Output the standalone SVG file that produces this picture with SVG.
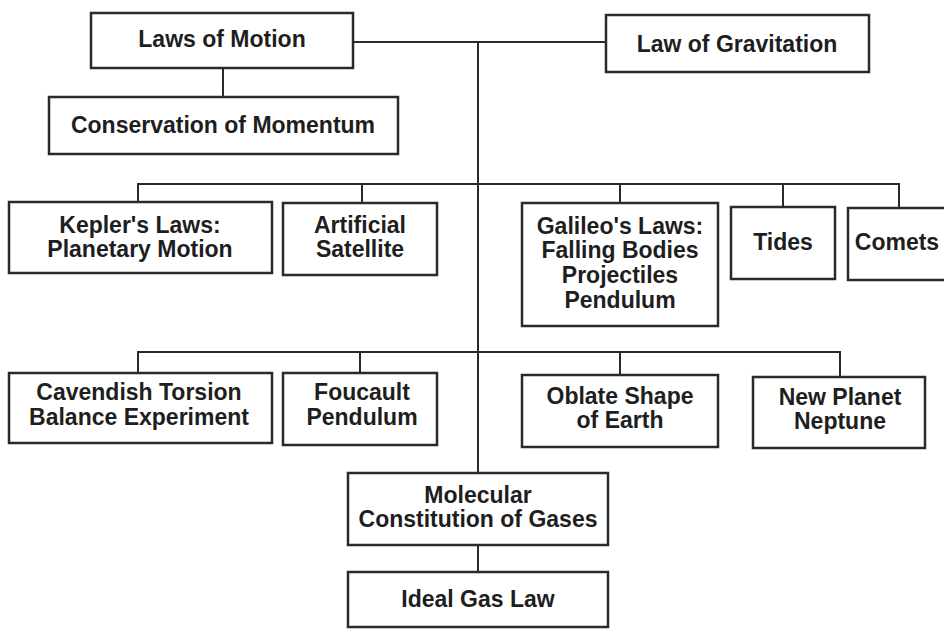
<svg xmlns="http://www.w3.org/2000/svg" width="944" height="629" viewBox="0 0 944 629">
  <style>
    .box { fill: #ffffff; stroke: #2a2a2a; stroke-width: 2.5; }
    .wire { fill: none; stroke: #2a2a2a; stroke-width: 2; }
    .lbl { font-family: "Liberation Sans", Arial, sans-serif; font-weight: bold; font-size: 23px; fill: #1e1e1e; text-anchor: middle; }
  </style>
  <rect width="944" height="629" fill="#ffffff"/>

  <g id="connectors">
    <!-- trunk linking the two root laws -->
    <path class="wire" d="M353 42 H606"/>
    <path class="wire" d="M478 42 V473"/>
    <path class="wire" d="M223 68 V97"/>
    <!-- first tier bus -->
    <path class="wire" d="M138 202 V184 H899 V208"/>
    <path class="wire" d="M362 184 V203"/>
    <path class="wire" d="M620 184 V203"/>
    <path class="wire" d="M783 184 V207"/>
    <!-- second tier bus -->
    <path class="wire" d="M138 373 V352 H840 V377"/>
    <path class="wire" d="M360 352 V373"/>
    <path class="wire" d="M620 352 V375"/>
    <!-- gases chain -->
    <path class="wire" d="M478 545 V572"/>
  </g>

  <g id="laws-of-motion">
    <rect class="box" x="91" y="13" width="262" height="55"/>
    <text class="lbl" x="222" y="47">Laws of Motion</text>
  </g>
  <g id="law-of-gravitation">
    <rect class="box" x="606" y="15" width="263" height="57"/>
    <text class="lbl" x="737" y="52">Law of Gravitation</text>
  </g>
  <g id="conservation-of-momentum">
    <rect class="box" x="49" y="97" width="349" height="57"/>
    <text class="lbl" x="223" y="133">Conservation of Momentum</text>
  </g>

  <g id="keplers-laws">
    <rect class="box" x="9" y="202" width="263" height="71"/>
    <text class="lbl" x="140" y="233">Kepler's Laws:</text>
    <text class="lbl" x="140" y="257">Planetary Motion</text>
  </g>
  <g id="artificial-satellite">
    <rect class="box" x="283" y="203" width="154" height="72"/>
    <text class="lbl" x="360" y="233">Artificial</text>
    <text class="lbl" x="360" y="257">Satellite</text>
  </g>
  <g id="galileos-laws">
    <rect class="box" x="522" y="203" width="196" height="123"/>
    <text class="lbl" x="620" y="234">Galileo's Laws:</text>
    <text class="lbl" x="620" y="258">Falling Bodies</text>
    <text class="lbl" x="620" y="283">Projectiles</text>
    <text class="lbl" x="620" y="308">Pendulum</text>
  </g>
  <g id="tides">
    <rect class="box" x="731" y="207" width="104" height="72"/>
    <text class="lbl" x="783" y="250">Tides</text>
  </g>
  <g id="comets">
    <rect class="box" x="848" y="208" width="104" height="72"/>
    <text class="lbl" x="897" y="250">Comets</text>
  </g>

  <g id="cavendish-experiment">
    <rect class="box" x="9" y="373" width="263" height="70"/>
    <text class="lbl" x="139" y="400">Cavendish Torsion</text>
    <text class="lbl" x="139" y="425">Balance Experiment</text>
  </g>
  <g id="foucault-pendulum">
    <rect class="box" x="283" y="373" width="154" height="72"/>
    <text class="lbl" x="362" y="400">Foucault</text>
    <text class="lbl" x="362" y="425">Pendulum</text>
  </g>
  <g id="oblate-earth">
    <rect class="box" x="522" y="375" width="196" height="72"/>
    <text class="lbl" x="620" y="404">Oblate Shape</text>
    <text class="lbl" x="620" y="428">of Earth</text>
  </g>
  <g id="neptune">
    <rect class="box" x="753" y="377" width="172" height="71"/>
    <text class="lbl" x="840" y="405">New Planet</text>
    <text class="lbl" x="840" y="429">Neptune</text>
  </g>

  <g id="molecular-constitution">
    <rect class="box" x="348" y="473" width="260" height="72"/>
    <text class="lbl" x="478" y="503">Molecular</text>
    <text class="lbl" x="478" y="527">Constitution of Gases</text>
  </g>
  <g id="ideal-gas-law">
    <rect class="box" x="348" y="572" width="260" height="55"/>
    <text class="lbl" x="478" y="607">Ideal Gas Law</text>
  </g>
</svg>
